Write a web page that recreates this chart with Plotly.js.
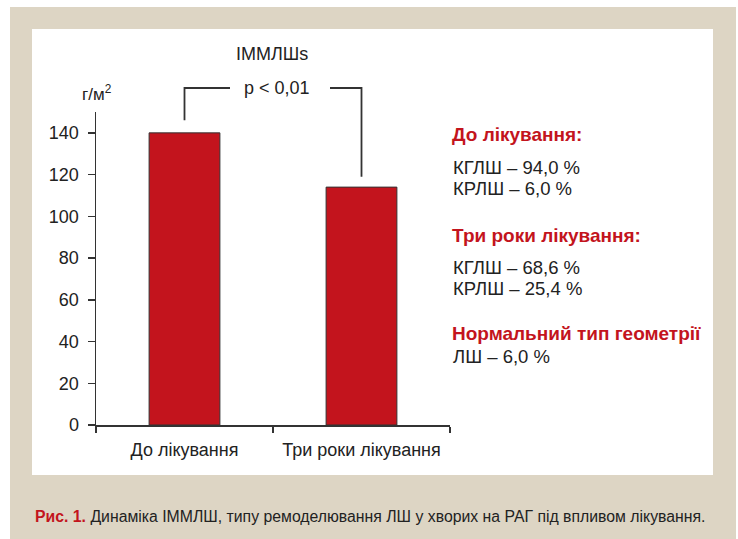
<!DOCTYPE html>
<html>
<head>
<meta charset="utf-8">
<script src="https://cdn.plot.ly/plotly-3.0.1.min.js"></script>
<style>html,body{margin:0;padding:0;background:#fff;}#chart{width:738px;height:539px;}</style>
</head>
<body>
<div id="chart"></div>
<script>
const categories = ["До лікування", "Три роки лікування"];
const values = [140, 114];
const yTicks = [0, 20, 40, 60, 80, 100, 120, 140];
const yMax = 150;
const chartTitle = "ІММЛШs";
const yUnit = "г/м<sup>2</sup>";
const pText = "p &lt; 0,01";
const sideHeadings = ["До лікування:", "Три роки лікування:", "Нормальний тип геометрії"];
const sideLines = [["КГЛШ – 94,0 %", "КРЛШ – 6,0 %"], ["КГЛШ – 68,6 %", "КРЛШ – 25,4 %"], ["ЛШ – 6,0 %"]];
const captionBold = "Рис. 1.";
const captionText = "Динаміка ІММЛШ, типу ремоделювання ЛШ у хворих на РАГ під впливом лікування.";

const W = 738, H = 539;
const M = {l: 96, r: 288, t: 112, b: 114};
const pw = W - M.l - M.r, ph = H - M.t - M.b;
const px = x => (x - M.l) / pw;
const py = y => (H - M.b - y) / ph;

const RED = "#c3141d";
const DARK = "#222222";
const FONT = "Liberation Sans, Arial, sans-serif";

const trace = {
  type: "bar", x: categories, y: values, width: 0.4,
  marker: {color: RED, line: {color: "#333", width: 1}},
  hoverinfo: "skip"
};

// bracket from data
const catX = i => (i + 0.5) / categories.length; // paper x of category center
const yp = v => v / yMax;
const brTop = yp(Math.max(...values) + 21.5);
const lc = {color: "#333", width: 1.8};
const shapes = [
  {type: "rect", xref: "paper", yref: "paper", x0: px(10), x1: px(736), y0: py(539), y1: py(7), fillcolor: "#ddd5c4", line: {width: 0}, layer: "below"},
  {type: "rect", xref: "paper", yref: "paper", x0: px(32), x1: px(713), y0: py(475), y1: py(29), fillcolor: "#ffffff", line: {width: 0}, layer: "below"},
  {type: "path", xref: "paper", yref: "paper", line: lc,
   path: `M ${catX(0)} ${yp(values[0] + 6)} L ${catX(0)} ${brTop} L ${px(230)} ${brTop}`},
  {type: "path", xref: "paper", yref: "paper", line: lc,
   path: `M ${px(330)} ${brTop} L ${catX(1)} ${brTop} L ${catX(1)} ${yp(values[1] + 5)}`}
];

const ann = (text, x, y, xanchor, size, color, extra) => Object.assign({
  text, xref: "paper", yref: "paper", x, y, xanchor, yanchor: "middle",
  showarrow: false, font: {family: FONT, size, color}
}, extra || {});

const annotations = [
  ann(chartTitle, px(272), py(54), "center", 18, DARK),
  ann(yUnit, px(97), py(93), "center", 17, DARK),
  ann(pText, px(277), brTop, "center", 18, DARK),
  ann(`<span style="color:${RED}"><b>${captionBold}</b></span> ${captionText}`, px(33), py(516), "left", 15.8, DARK)
];

const headY = [134, 235, 333];
const lineY = [[167, 188], [267, 288], [356]];
sideHeadings.forEach((h, i) => {
  annotations.push(ann("<b>" + h + "</b>", px(450), py(headY[i]), "left", 19, RED));
  sideLines[i].forEach((t, j) => {
    annotations.push(ann(t, px(451), py(lineY[i][j]), "left", 18.5, DARK));
  });
});

const layout = {
  width: W, height: H,
  margin: M,
  paper_bgcolor: "#ffffff", plot_bgcolor: "rgba(0,0,0,0)",
  showlegend: false,
  xaxis: {
    type: "category", range: [-0.5, 1.5], tickson: "boundaries",
    showline: true, linecolor: "#333", linewidth: 1.5,
    ticks: "outside", ticklen: 6, tickcolor: "#333", tickwidth: 1.5,
    ticklabelstandoff: 8,
    tickfont: {family: FONT, size: 18, color: DARK},
    showgrid: false, zeroline: false, fixedrange: true
  },
  yaxis: {
    range: [0, yMax], tickvals: yTicks, ticktext: yTicks.map(String),
    showline: true, linecolor: "#333", linewidth: 1.5,
    ticks: "outside", ticklen: 7, tickcolor: "#333", tickwidth: 1.5,
    ticklabelstandoff: 5,
    tickfont: {family: FONT, size: 18, color: DARK},
    showgrid: false, zeroline: false, fixedrange: true
  },
  shapes: shapes,
  annotations: annotations
};

Plotly.newPlot("chart", [trace], layout, {displayModeBar: false, staticPlot: true});
</script>
</body>
</html>
